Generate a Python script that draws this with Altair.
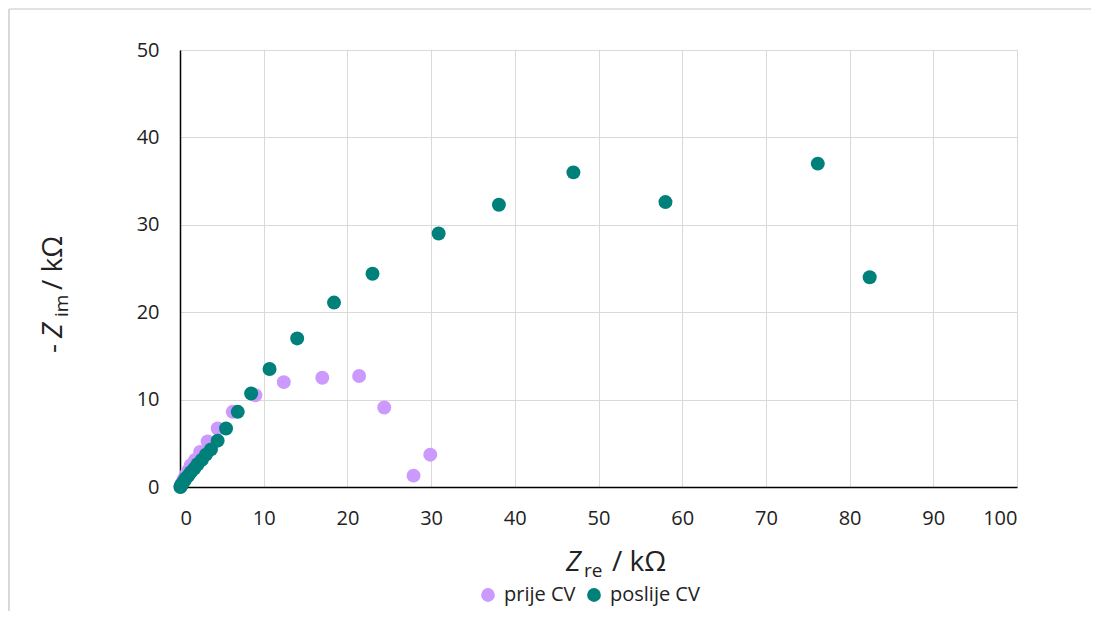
import altair as alt
import pandas as pd

series_names = ["prije CV", "poslije CV"]

prije_x = [29.9, 27.9, 24.4, 21.4, 17.0, 12.4, 9.0, 6.3, 4.5, 3.3, 2.4, 1.8, 1.3, 1.0, 0.7, 0.45, 0.25, 0.1, 0.05]
prije_y = [3.7, 1.3, 9.1, 12.7, 12.5, 12.0, 10.5, 8.6, 6.7, 5.2, 4.0, 3.1, 2.5, 1.9, 1.4, 0.9, 0.5, 0.2, 0.05]

poslije_x = [82.4, 76.2, 58.0, 47.0, 38.1, 30.9, 23.0, 18.4, 14.0, 10.7, 8.5, 6.9, 5.5, 4.5, 3.7, 3.1, 2.6, 2.1, 1.7, 1.3, 1.0, 0.7, 0.5, 0.3, 0.2, 0.1, 0.05]
poslije_y = [24.0, 37.0, 32.6, 36.0, 32.3, 29.0, 24.4, 21.1, 17.0, 13.5, 10.7, 8.6, 6.7, 5.3, 4.3, 3.7, 3.1, 2.6, 2.1, 1.7, 1.3, 1.0, 0.7, 0.4, 0.25, 0.1, 0.0]

x_ticks = list(range(0, 101, 10))
y_ticks = list(range(0, 51, 10))

colors = ["#CC99FF", "#00807A"]
FONT = "Open Sans"

df = pd.concat([
    pd.DataFrame({"Zre": prije_x, "Zim": prije_y, "serija": series_names[0]}),
    pd.DataFrame({"Zre": poslije_x, "Zim": poslije_y, "serija": series_names[1]}),
], ignore_index=True)

points = alt.Chart(df).mark_circle(size=195, opacity=1).encode(
    x=alt.X("Zre:Q", scale=alt.Scale(domain=[0, 100], nice=False),
            axis=alt.Axis(values=x_ticks, title=None, grid=True, gridColor="#d9d9d9",
                          domainColor="#000000", domainWidth=1.5, ticks=False,
                          labelFontSize=20, labelFont=FONT, labelColor="#222222",
                          labelPadding=21)),
    y=alt.Y("Zim:Q", scale=alt.Scale(domain=[0, 50], nice=False),
            axis=alt.Axis(values=y_ticks, title=None, grid=True, gridColor="#d9d9d9",
                          domainColor="#000000", domainWidth=1.5, ticks=False,
                          labelFontSize=20, labelFont=FONT, labelColor="#222222",
                          labelPadding=21)),
    color=alt.Color("serija:N", scale=alt.Scale(domain=series_names, range=colors),
                    legend=alt.Legend(title=None, orient="none", direction="horizontal",
                                      legendX=298, legendY=535, labelFontSize=20,
                                      labelFont=FONT, labelColor="#222222",
                                      symbolSize=190, symbolType="circle",
                                      columnPadding=8, labelOffset=6)),
    order=alt.Order("serija_order:Q"),
).transform_calculate(serija_order="datum.serija == 'prije CV' ? 0 : 1")

dummy = pd.DataFrame({"a": [0]})
base = alt.Chart(dummy)

def txt(text, x, y, size, angle=0, italic=False, baseline="alphabetic"):
    kw = dict(text=text, align="left", baseline=baseline, fontSize=size, font=FONT,
              color="#222222")
    if angle:
        kw["angle"] = angle
    if italic:
        kw["fontStyle"] = "italic"
    return base.mark_text(**kw).encode(x=alt.value(x), y=alt.value(y))

xtitle = (txt("Z", 386, 521, 28, italic=True)
          + txt("re", 404, 527, 19)
          + txt("/ kΩ", 432, 521, 28))
ytitle = (txt("- ", -118, 303, 28, angle=270)
          + txt("Z", -118, 288, 28, angle=270, italic=True)
          + txt("im", -112, 267, 19, angle=270)
          + txt("/ kΩ", -118, 240, 28, angle=270))

frame = (base.mark_rule(color="#d9d9d9", strokeWidth=2).encode(
            x=alt.value(-171), x2=alt.value(-171), y=alt.value(-41), y2=alt.value(620))
         + base.mark_rule(color="#d9d9d9", strokeWidth=1.5).encode(
            x=alt.value(-171), x2=alt.value(1000), y=alt.value(-41), y2=alt.value(-41)))

chart = alt.layer(frame, points, xtitle, ytitle).properties(
    width=837, height=437,
    autosize=alt.AutoSizeParams(type="none"),
    padding={"left": 172, "top": 42, "right": 74, "bottom": 124},
).configure_view(stroke=None).configure(background="white")

chart.save("out.html", embed_options={"renderer": "svg", "actions": False})
